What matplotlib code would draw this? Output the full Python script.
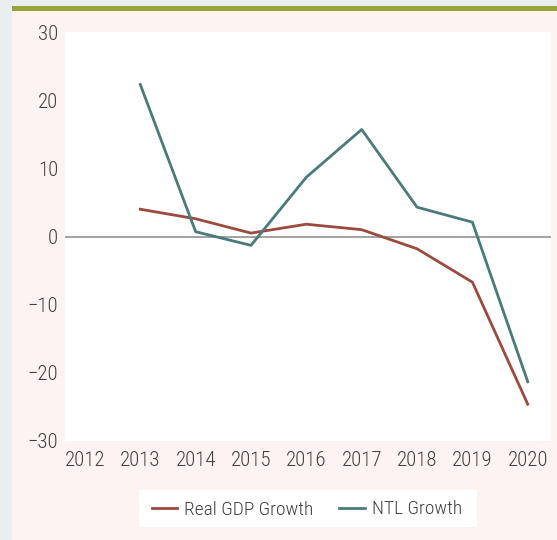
import numpy as np
import matplotlib.pyplot as plt
from matplotlib.patches import Rectangle

years = [2013, 2014, 2015, 2016, 2017, 2018, 2019, 2020]
gdp_growth = [4.0, 2.6, 0.5, 1.8, 1.0, -1.8, -6.7, -24.6]
ntl_growth = [22.3, 0.7, -1.3, 8.7, 15.7, 4.3, 2.1, -21.3]
xticks = list(range(2012, 2021))
yticks = [-30, -20, -10, 0, 10, 20, 30]

plt.rcParams['font.family'] = ['Roboto Condensed', 'DejaVu Sans']
plt.rcParams['font.weight'] = 300

W, H = 557, 540
fig = plt.figure(figsize=(W / 100, H / 100), dpi=100)
fig.patch.set_facecolor('#e9eeee')

# page background: pink panel with olive rule on top, white legend box
fig.add_artist(Rectangle((12 / W, 0), 1, 1 - 11 / H, transform=fig.transFigure,
                         facecolor='#fdf4f2', edgecolor='none', zorder=0))
fig.add_artist(Rectangle((12 / W, 1 - 11 / H), 1, 5 / H, transform=fig.transFigure,
                         facecolor='#9aa537', edgecolor='none', zorder=0))
fig.add_artist(Rectangle((139 / W, 13 / H), 338 / W, 37 / H, transform=fig.transFigure,
                         facecolor='white', edgecolor='none', zorder=0))

ax = fig.add_axes([65 / W, 99 / H, 486 / W, 409 / H])
ax.set_facecolor('white')

ax.axhline(0, color='#9a9a9a', lw=1.3, zorder=1)
ax.plot(years, gdp_growth, color='#9b4a3d', lw=2, label='Real GDP Growth', zorder=2)
ax.plot(years, ntl_growth, color='#4a7b79', lw=2, label='NTL Growth', zorder=2)

ax.set_xlim(2011.64, 2020.42)
ax.set_ylim(-30, 30)
ax.set_xticks(xticks)
ax.set_yticks(yticks)
ax.set_yticklabels(['\u221230', '\u221220', '\u221210', '0', '10', '20', '30'])
for s in ax.spines.values():
    s.set_visible(False)
ax.tick_params(length=0, labelsize=15, colors='#404040')
ax.tick_params(axis='x', pad=7)
ax.tick_params(axis='y', pad=5)

leg = fig.legend(*ax.get_legend_handles_labels(), loc='center',
                 bbox_to_anchor=(307 / W, 30.5 / H), ncol=2, frameon=False,
                 fontsize=14, handlelength=1.29, handletextpad=0.36,
                 columnspacing=1.33, borderpad=0, labelcolor='#404040')

fig.savefig('out.png', dpi=100, facecolor=fig.get_facecolor())
